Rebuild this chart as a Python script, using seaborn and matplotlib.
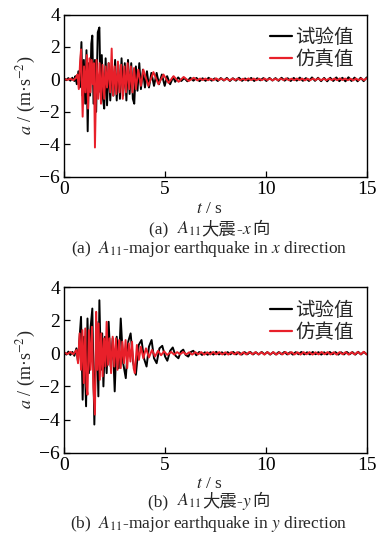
import numpy as np
import pandas as pd
import matplotlib
matplotlib.use("Agg")
import matplotlib.pyplot as plt
import seaborn as sns

sns.set_theme(style="ticks")
plt.rcParams['font.family'] = ['Liberation Serif', 'Noto Sans CJK SC']
plt.rcParams['mathtext.fontset'] = 'stix'
plt.rcParams['axes.unicode_minus'] = True

# ---------------- data (turning points) ----------------
labels = ['试验值', '仿真值']
xticks = [0, 5, 10, 15]
yticks = [-6, -4, -2, 0, 2, 4]

# (a) x direction, test
ax_test_t = [0.0, 0.1, 0.2, 0.3, 0.4, 0.5, 0.55, 0.62, 0.7, 0.76, 0.85, 0.9, 0.97, 1.04, 1.1, 1.16,
             1.22, 1.28, 1.34, 1.39, 1.45, 1.52, 1.58, 1.66, 1.74, 1.8, 1.86, 1.92, 1.98, 2.05, 2.12,
             2.2, 2.28, 2.36, 2.44, 2.52, 2.6, 2.68, 2.76, 2.84, 2.92, 3.0, 3.08, 3.16, 3.24, 3.32,
             3.4, 3.47, 3.55, 3.63, 3.72, 3.8, 3.9, 4.0, 4.1, 4.2, 4.32, 4.45, 4.58, 4.7, 4.84, 4.98,
             5.1, 5.25, 5.4, 5.5]
ax_test_a = [0.05, -0.05, 0.08, -0.08, 0.1, -0.1, 0.2, -0.3, 0.5, -0.5, 2.3, -1.0, 1.2, -1.5, 1.8, -3.2,
             1.0, -1.0, 2.2, 2.7, -1.5, 1.2, -2.0, 2.9, 3.2, -0.8, 1.5, -1.2, -1.8, 1.3, -1.6,
             1.0, -1.3, 0.8, -1.0, 1.2, -1.3, 0.9, -1.2, 1.3, -1.0, 1.0, -1.3, 1.2, -0.9, 1.0,
             -1.2, -1.5, 0.8, -0.7, 1.0, -0.6, 0.6, -0.5, 0.5, -0.5, 0.4, -0.4, 0.4, -0.3, 0.3, -0.4,
             0.2, -0.3, 0.15, -0.15]
ax_test_tail = [0.12, -0.1, 0.08, -0.12, 0.1, -0.08, 0.09, -0.11, 0.07, -0.09, 0.1, -0.08, 0.06, -0.1,
                0.08, -0.07, 0.09, -0.1, 0.07, -0.08, 0.1, -0.09, 0.06, -0.08, 0.09, -0.1, 0.07, -0.06,
                0.08, -0.1, 0.09, -0.07, 0.08, -0.09, 0.1, -0.08, 0.07, -0.1, 0.09, -0.08, 0.11, -0.09,
                0.08, -0.1, 0.12, -0.09, 0.1, -0.11, 0.09, -0.12, 0.1, -0.1, 0.12, -0.11, 0.1, -0.12,
                0.13, -0.1, 0.11, -0.12, 0.1, -0.11, 0.12]

# (a) x direction, simulation
ax_sim_t = [0.0, 0.15, 0.3, 0.45, 0.58, 0.65, 0.72, 0.78, 0.83, 0.91, 0.98, 1.05, 1.12, 1.18, 1.25,
            1.3, 1.36, 1.42, 1.47, 1.52, 1.6, 1.68, 1.75, 1.82, 1.9, 1.98, 2.05, 2.12, 2.2, 2.28,
            2.35, 2.42, 2.5, 2.58, 2.66, 2.74, 2.82, 2.9, 2.98, 3.06, 3.14, 3.22, 3.3, 3.38, 3.46,
            3.55, 3.67, 3.8, 3.92, 4.17, 4.42, 4.67, 4.92, 5.17, 5.42, 5.67, 5.92, 6.17, 6.42, 6.6]
ax_sim_a = [0.02, -0.03, 0.04, -0.05, 0.1, 0.3, -0.6, 1.0, 1.85, -2.3, 0.8, -0.8, 1.5, -1.8, 1.3,
            -0.8, 1.2, -0.3, 1.0, -4.2, 1.2, -1.2, 1.0, -1.5, 0.9, -1.2, 0.8, -0.5, 1.0, -0.8,
            1.9, -1.0, 0.8, -0.9, 1.1, -0.8, 0.9, -1.2, 0.8, -0.8, 1.0, -0.6, 0.8, -0.8, 0.7,
            -0.6, 0.6, -0.4, 0.6, -0.4, 0.45, -0.3, 0.3, -0.22, 0.2, -0.15, 0.15, -0.1, 0.1, -0.06]
ax_sim_tail = [0.05, -0.04, 0.05, -0.05, 0.04, -0.05, 0.06, -0.04, 0.05, -0.05, 0.04, -0.06, 0.05,
               -0.04, 0.05, -0.05, 0.04, -0.05, 0.06, -0.04, 0.05, -0.05, 0.04, -0.05, 0.05, -0.04,
               0.05, -0.06, 0.04, -0.05, 0.05, -0.04, 0.06, -0.05, 0.04, -0.05, 0.05, -0.04, 0.05,
               -0.06, 0.04, -0.05, 0.05, -0.04, 0.06, -0.05, 0.04, -0.05, 0.05, -0.04, 0.05, -0.05,
               0.06, -0.04, 0.05, -0.05, 0.04, -0.06, 0.05, -0.05, 0.06, -0.05, 0.07]

# (b) y direction, test
ay_test_t = [0.0, 0.1, 0.2, 0.3, 0.4, 0.5, 0.6, 0.68, 0.75, 0.83, 0.91, 0.98, 1.08, 1.15, 1.22, 1.3,
             1.39, 1.49, 1.6, 1.69, 1.74, 1.82, 1.88, 1.94, 2.02, 2.1, 2.2, 2.3, 2.4, 2.5, 2.6, 2.7,
             2.8, 2.92, 3.05, 3.17, 3.29, 3.42, 3.55, 3.69, 3.83, 3.95, 4.08, 4.2, 4.33, 4.45, 4.58,
             4.72, 4.86, 5.0, 5.11, 5.25, 5.38, 5.52, 5.66, 5.78, 5.9, 6.02, 6.15, 6.28, 6.4, 6.55]
ay_test_a = [0.05, -0.08, 0.1, -0.1, 0.08, -0.15, 0.3, -0.5, 0.8, 2.2, -2.8, 1.0, -3.2, 2.1, -1.2, 1.5,
             2.7, -4.3, 1.9, -2.6, 3.2, -1.0, 1.2, -2.0, 1.0, -1.2, 1.9, -0.8, 0.9, -2.3, 1.0, -0.9,
             2.1, -0.6, -1.5, 0.7, 1.2, -0.6, -1.3, 0.5, 0.8, -0.3, -0.8, 0.4, 0.8, -0.3, -0.6,
             0.3, 0.45, -0.2, -0.45, 0.15, 0.35, -0.15, -0.3, 0.1, 0.22, -0.1, -0.2, 0.08, 0.15, -0.12]
ay_test_tail = [0.08, -0.1, 0.06, -0.09, 0.07, -0.08, 0.09, -0.07, 0.06, -0.08, 0.07, -0.06, 0.08,
                -0.07, 0.06, -0.08, 0.07, -0.06, 0.08, -0.07, 0.06, -0.07, 0.08, -0.06, 0.07, -0.08,
                0.06, -0.07, 0.07, -0.06, 0.08, -0.07, 0.06, -0.08, 0.07, -0.06, 0.08, -0.07, 0.06,
                -0.07, 0.08, -0.06, 0.07, -0.08, 0.06, -0.07, 0.08, -0.06, 0.07, -0.08, 0.06, -0.07,
                0.08, -0.06, 0.07, -0.08, 0.09, -0.07, 0.08, -0.06]

# (b) y direction, simulation
ay_sim_t = [0.0, 0.15, 0.3, 0.45, 0.6, 0.68, 0.76, 0.83, 0.9, 0.97, 1.04, 1.1, 1.15, 1.22, 1.3,
            1.37, 1.44, 1.52, 1.58, 1.64, 1.7, 1.76, 1.83, 1.9, 1.97, 2.04, 2.1, 2.17, 2.24, 2.32,
            2.4, 2.48, 2.56, 2.64, 2.72, 2.8, 2.88, 2.96, 3.04, 3.12, 3.2, 3.28, 3.36, 3.44, 3.5,
            3.6, 3.7, 3.8, 3.92, 4.05, 4.2, 4.35, 4.5, 4.65, 4.8, 4.95, 5.1, 5.3]
ay_sim_a = [0.05, -0.05, 0.08, -0.06, 0.2, -0.6, 1.2, -1.0, 1.4, -1.8, 1.5, -2.0, -2.5, 1.4, -1.0,
            1.6, -2.0, -3.7, 2.5, -1.0, 1.8, -1.6, 1.2, -1.4, 0.9, -0.8, 1.9, -0.7, 0.9, -1.2,
            1.0, -0.8, 0.9, -1.0, 0.8, -0.9, 0.7, -0.6, 0.8, -0.9, 0.6, -0.5, 0.7, -0.9, -1.2,
            0.5, -0.4, 0.4, -0.3, 0.3, -0.25, 0.2, -0.2, 0.15, -0.12, 0.12, -0.1, 0.08]
ay_sim_tail = [-0.08, 0.07, -0.06, 0.08, -0.07, 0.06, -0.08, 0.07, -0.06, 0.07, -0.08, 0.06, -0.07,
               0.08, -0.06, 0.07, -0.07, 0.06, -0.08, 0.07, -0.06, 0.07, -0.08, 0.06, -0.07, 0.08,
               -0.06, 0.07, -0.07, 0.06, -0.08, 0.07, -0.06, 0.07, -0.08, 0.06, -0.07, 0.08, -0.06,
               0.07, -0.07, 0.06, -0.08, 0.07, -0.06, 0.07, -0.08, 0.06, -0.07, 0.08, -0.06, 0.07,
               -0.07, 0.06, -0.08, 0.07, -0.06, 0.07, -0.08, 0.06, -0.07, 0.08, -0.06, 0.09, -0.07]

colors = {'试验值': '#000000', '仿真值': '#e8202a'}


def build(t, a, tail, t_end=15.0):
    t = list(t)
    start = t[-1] + (t_end - t[-1]) / len(tail)
    t_tail = np.linspace(start, t_end, len(tail))
    return np.concatenate([t, t_tail]), np.concatenate([a, tail])


def frame(test, sim):
    tt, ta = build(*test)
    st, sa = build(*sim)
    return pd.concat([
        pd.DataFrame({'t': tt, 'a': ta, 'series': labels[0]}),
        pd.DataFrame({'t': st, 'a': sa, 'series': labels[1]}),
    ], ignore_index=True)


df_x = frame((ax_test_t, ax_test_a, ax_test_tail), (ax_sim_t, ax_sim_a, ax_sim_tail))
df_y = frame((ay_test_t, ay_test_a, ay_test_tail), (ay_sim_t, ay_sim_a, ay_sim_tail))

W, H = 378, 546
fig = plt.figure(figsize=(W / 100, H / 100), dpi=100)
fig.patch.set_facecolor('white')

axes_px = [(64.3, 14.5, 366.7, 176.7), (64.3, 287.0, 366.7, 452.7)]
axs = []
for (x0, y0, x1, y1) in axes_px:
    axs.append(fig.add_axes([x0 / W, 1 - y1 / H, (x1 - x0) / W, (y1 - y0) / H]))

FS = 14
for ax, df in zip(axs, [df_x, df_y]):
    sns.lineplot(data=df, x='t', y='a', hue='series', palette=colors, hue_order=labels,
                 estimator=None, sort=False, lw=1.4, ax=ax, legend=True)
    ax.set_xlim(0, 15)
    ax.set_ylim(-6, 4)
    ax.set_xticks(xticks)
    ax.set_yticks(yticks)
    ax.tick_params(direction='in', length=4, width=0.9, labelsize=FS, pad=3, colors='black')
    for s in ax.spines.values():
        s.set_linewidth(1.0)
        s.set_color('black')
    ax.set_xlabel('')
    ax.set_ylabel('$a$ / (m·s$^{-2}$)', fontsize=13, labelpad=1)
    ax.set_facecolor('white')
    leg = ax.legend(loc='upper right', bbox_to_anchor=(1.0, 1.0), frameon=False,
                    handlelength=1.1, handletextpad=0.2, labelspacing=0.05, borderaxespad=0.25,
                    prop={'family': ['Noto Sans CJK SC'], 'size': 14})
    for ln in leg.get_lines():
        ln.set_linewidth(1.6)

renderer = fig.canvas.get_renderer()
SERIF = ['Liberation Serif']
CJK = ['Noto Sans CJK SC']


def rich_line(cx_px, base_px, pieces, fs):
    items = []
    for s, fam in pieces:
        t = fig.text(0, 1 - base_px / H, s, fontsize=fs, va='baseline', ha='left', family=fam)
        items.append((t, t.get_window_extent(renderer).width))
    total = sum(w for _, w in items)
    x = cx_px - total / 2
    for t, w in items:
        t.set_x(x / W)
        x += w


CFS = 12.5
cx = 209
fig.text(cx / W, 1 - 209 / H, '$t$ / s', ha='center', va='center', fontsize=CFS)
rich_line(cx, 234, [('(a)  ', SERIF), ('$A_{11}$', SERIF), ('大震', CJK), ('-', SERIF),
                    ('$x$', SERIF), ('向', CJK)], CFS)
fig.text(cx / W, 1 - 249 / H, '(a)  $A_{11}$-major earthquake in $x$ direction', ha='center',
         va='center', fontsize=CFS)
fig.text(cx / W, 1 - 484 / H, '$t$ / s', ha='center', va='center', fontsize=CFS)
rich_line(cx, 506, [('(b)  ', SERIF), ('$A_{11}$', SERIF), ('大震', CJK), ('-', SERIF),
                    ('$y$', SERIF), ('向', CJK)], CFS)
fig.text(cx / W, 1 - 524 / H, '(b)  $A_{11}$-major earthquake in $y$ direction', ha='center',
         va='center', fontsize=CFS)

fig.savefig('out.png', dpi=100, facecolor='white')
